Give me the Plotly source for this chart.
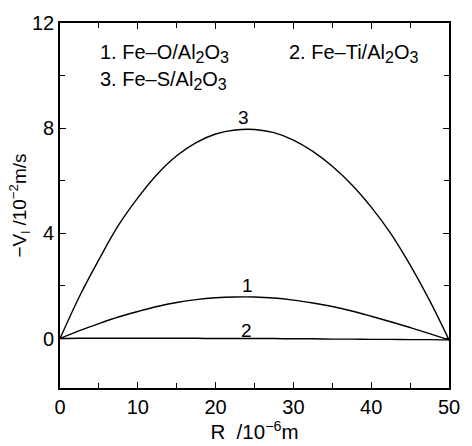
import plotly.graph_objects as go

# Radius (10^-6 m) and -V_l (10^-2 m/s) for each system
r_grid = [0, 2.5, 5, 7.5, 10, 12.5, 15, 17.5, 20, 22.5, 25,
          27.5, 30, 32.5, 35, 37.5, 40, 42.5, 45, 47.5, 50]

v_feo = [0, 0.30, 0.57, 0.82, 1.03, 1.22, 1.37, 1.48, 1.55, 1.58, 1.58,
         1.54, 1.46, 1.35, 1.22, 1.05, 0.85, 0.64, 0.42, 0.19, -0.05]

v_feti = [0, 0.01, 0.01, 0.01, 0.01, 0.01, 0.01, 0.01, 0.0, 0.0, 0.0,
          0.0, -0.01, -0.01, -0.02, -0.02, -0.03, -0.03, -0.04, -0.04, -0.05]

v_fes = [0, 1.60, 3.00, 4.30, 5.35, 6.25, 6.95, 7.45, 7.78, 7.93, 7.95,
         7.83, 7.55, 7.12, 6.55, 5.85, 5.00, 4.00, 2.80, 1.45, -0.05]

curve_labels = ["1", "2", "3"]


def sub(s):
    # subscript kept close to full size, as in the printed key
    return f"<sub><span style='font-size:16px'>{s}</span></sub>"


legend_texts = [f"1. Fe–O/Al{sub('2')}O{sub('3')}",
                f"2. Fe–Ti/Al{sub('2')}O{sub('3')}",
                f"3. Fe–S/Al{sub('2')}O{sub('3')}"]

x_ticks = [0, 10, 20, 30, 40, 50]
y_ticks = [0, 4, 8, 12]

FONT = "Liberation Sans, Arial, Helvetica, sans-serif"

fig = go.Figure()
for v in [v_feo, v_feti, v_fes]:
    fig.add_trace(go.Scatter(x=r_grid, y=v, mode="lines", line_shape="spline",
                             line=dict(color="black", width=1.4),
                             showlegend=False, hoverinfo="skip"))

# Curve numbers written just above each curve
label_pos = [(24.1, 2.0), (24.0, 0.3), (23.6, 8.42)]
for lab, (lx, ly) in zip(curve_labels, label_pos):
    fig.add_annotation(x=lx, y=ly, text=lab, showarrow=False, yanchor="middle",
                       font=dict(size=19, color="black", family=FONT))

# Key describing the three systems
key_pos = [(4.9, 10.85), (29.2, 10.85), (4.9, 9.83)]
for txt, (kx, ky) in zip(legend_texts, key_pos):
    fig.add_annotation(x=kx, y=ky, text=txt, showarrow=False, xanchor="left",
                       font=dict(size=20, color="black", family=FONT))

axis_common = dict(showgrid=False, zeroline=False, showline=True, linecolor="black",
                   linewidth=1.6, ticks="inside", ticklen=6, tickwidth=1.4,
                   tickcolor="black", mirror="ticks",
                   tickfont=dict(size=20, color="black", family=FONT))

fig.update_xaxes(range=[0, 50], tickvals=x_ticks,
                 minor=dict(dtick=5, ticks="inside", ticklen=5, tickcolor="black", tickwidth=1.2),
                 title=dict(text="R  /10<sup>−6</sup>m", standoff=2,
                            font=dict(size=20.5, color="black", family=FONT)),
                 **axis_common)
fig.update_yaxes(range=[-1.88, 12], tickvals=y_ticks,
                 minor=dict(tickvals=[2, 6, 10], ticks="inside", ticklen=5,
                            tickcolor="black", tickwidth=1.2),
                 title=dict(text="−V<sub>l</sub> /10<sup>−2</sup>m/s", standoff=0,
                            font=dict(size=19, color="black", family=FONT)),
                 **axis_common)

fig.update_layout(width=472, height=446, plot_bgcolor="white", paper_bgcolor="white",
                  margin=dict(l=60, r=18, t=17, b=52))

fig.write_html("out.html")
